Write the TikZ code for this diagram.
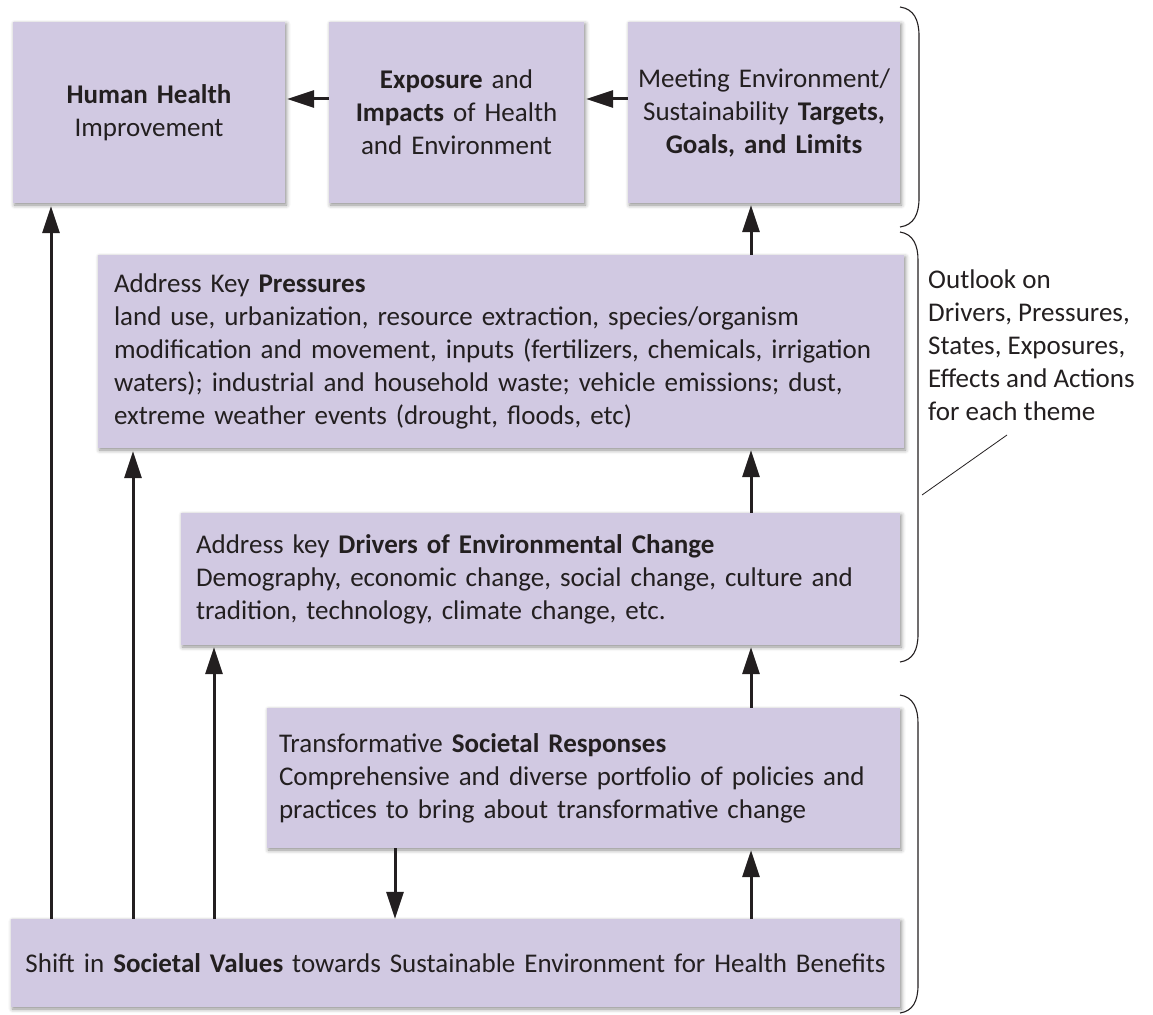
\documentclass[tikz,border=0pt]{standalone}
\usepackage{fontspec}
\setmainfont{Carlito}
\usetikzlibrary{arrows.meta,shadows.blur}
\definecolor{boxfill}{RGB}{209,201,226}
\definecolor{ink}{RGB}{35,31,32}
\begin{document}
\begin{tikzpicture}[x=1pt,y=-1pt,
  box/.style={fill=boxfill, draw=none, text=ink,
    blur shadow={shadow xshift=1.5pt,shadow yshift=-2pt,shadow blur radius=4pt,shadow opacity=45},
    font=\fontsize{27pt}{33pt}\selectfont, inner ysep=0pt},
  arr/.style={-{Triangle[length=27pt,width=17pt]}, line width=3pt, draw=ink},
  brace/.style={draw=ink, line width=1.1pt},
  outl/.style={text=ink, font=\fontsize{27pt}{33pt}\selectfont, inner sep=0pt, align=left}
]
\useasboundingbox (0,0) rectangle (1153,1014);

% top row
\node[box, minimum width=272pt, minimum height=181pt, inner xsep=16pt, text width=240pt, align=center] (hh) at (149,112.5) {\textbf{Human Health}\\Improvement};
\node[box, minimum width=255pt, minimum height=181pt, inner xsep=10pt, text width=235pt, align=center] (ex) at (456.5,112.5) {\textbf{Exposure} and\\\textbf{Impacts} of Health\\and Environment};
\node[box, minimum width=272pt, minimum height=181pt, inner xsep=10pt, text width=252pt, align=center] (mt) at (764,112.5) {Meeting Environment/\\Sustainability \textbf{Targets,}\\\textbf{Goals, and Limits}};

% middle boxes
\node[box, minimum width=806pt, minimum height=193pt, inner xsep=16pt, text width=774pt, align=left] (pr) at (501,351.5) {Address Key \textbf{Pressures}\\land use, urbanization, resource extraction, species/organism\\modification and movement, inputs (fertilizers, chemicals, irrigation\\waters); industrial and household waste; vehicle emissions; dust,\\extreme weather events (drought, floods, etc)};
\node[box, minimum width=719pt, minimum height=132pt, inner xsep=15pt, text width=689pt, align=left] (dr) at (540.5,579) {Address key \textbf{Drivers of Environmental Change}\\Demography, economic change, social change, culture and\\tradition, technology, climate change, etc.};
\node[box, minimum width=633pt, minimum height=140pt, inner xsep=12pt, text width=609pt, align=left] (tr) at (583.5,778) {Transformative \textbf{Societal Responses}\\Comprehensive and diverse portfolio of policies and\\practices to bring about transformative change};
\node[box, minimum width=889pt, minimum height=88pt, inner xsep=10pt, text width=869pt, align=center] (sv) at (455.5,963) {Shift in \textbf{Societal Values} towards Sustainable Environment for Health Benefits};

% helper coordinates
\coordinate (ry) at (0,99);
\coordinate (c1) at (51,0);
\coordinate (c2) at (133,0);
\coordinate (c3) at (214,0);
\coordinate (c4) at (395,0);
\coordinate (c5) at (751,0);

% arrows
\draw[arr, shorten >=2pt] (ex.west |- ry) -- (hh.east |- ry);
\draw[arr, shorten >=2pt] (mt.west |- ry) -- (ex.east |- ry);
\draw[arr, shorten >=3pt] (sv.north -| c1) -- (hh.south -| c1);
\draw[arr, shorten >=3pt] (sv.north -| c2) -- (pr.south -| c2);
\draw[arr, shorten >=2pt] (sv.north -| c3) -- (dr.south -| c3);
\draw[arr] (tr.south -| c4) -- (sv.north -| c4);
\draw[arr, shorten >=2pt] (sv.north -| c5) -- (tr.south -| c5);
\draw[arr, shorten >=2pt] (tr.north -| c5) -- (dr.south -| c5);
\draw[arr, shorten >=2pt] (dr.north -| c5) -- (pr.south -| c5);
\draw[arr, shorten >=2pt] (pr.north -| c5) -- (mt.south -| c5);

% braces
\draw[brace] (900,7) .. controls (914,9) and (919,20) .. (919,36) -- (919,198) .. controls (919,214) and (914,225) .. (900,227);
\draw[brace] (900,232) .. controls (913,234) and (918,245) .. (918,260) -- (918,634) .. controls (918,650) and (913,660) .. (900,662);
\draw[brace] (900,695) .. controls (913,697) and (918,708) .. (918,723) -- (918,985) .. controls (918,1001) and (913,1011) .. (900,1013);

% outlook label
\node[outl, anchor=north west] (ol) at (928,270) {Outlook on\\Drivers, Pressures,\\States, Exposures,\\Effects and Actions\\for each theme};
\coordinate (pt) at (1007,435);
\coordinate (pb) at (922,495);
\draw[draw=ink, line width=0.8pt] (pb) -- (pt);
\end{tikzpicture}
\end{document}
